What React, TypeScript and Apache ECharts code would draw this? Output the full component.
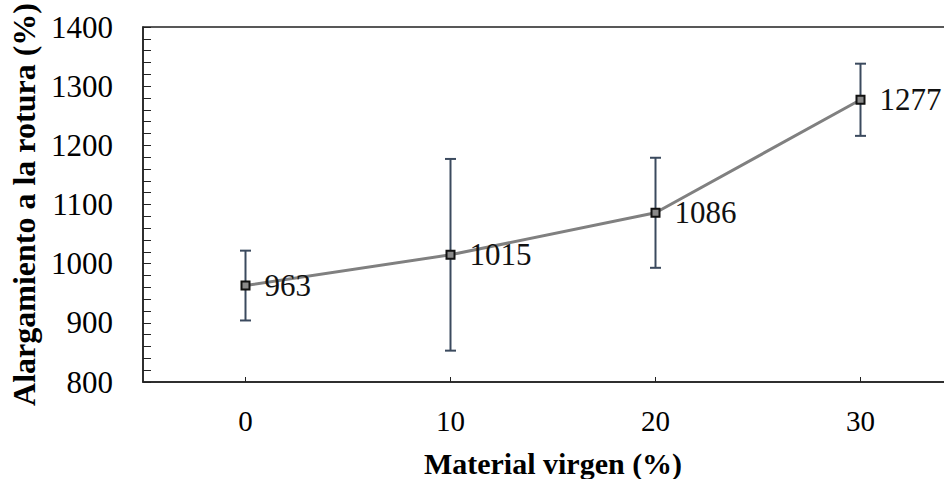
import React, { useEffect, useRef } from "react";
import * as echarts from "echarts";

const categories = ["0", "10", "20", "30"];
const means = [963, 1015, 1086, 1277];
const errors = [59, 162, 93, 61];
const yTicks = { min: 800, max: 1400, interval: 100 };

const FONT = "Liberation Serif";

export default function App() {
  const ref = useRef<HTMLDivElement>(null);
  useEffect(() => {
    document.body.style.margin = "0";
    const chart = echarts.init(ref.current!, null, { renderer: "svg" });
    const errData = categories.map((_, i) => [i, means[i] - errors[i], means[i] + errors[i]]);
    chart.setOption({
      animation: false,
      backgroundColor: "#ffffff",
      textStyle: { fontFamily: FONT },
      grid: {
        left: 143,
        top: 27,
        width: 820,
        height: 355,
        outerBoundsMode: "none",
        containLabel: false,
        show: true,
        borderColor: "#222",
        borderWidth: 1.5,
        backgroundColor: "transparent",
      },
      xAxis: {
        type: "category",
        data: categories,
        boundaryGap: true,
        name: "Material virgen (%)",
        nameLocation: "middle",
        nameGap: 66,
        nameTextStyle: { fontFamily: FONT, fontSize: 30, lineHeight: 30, fontWeight: "bold", color: "#000" },
        axisLine: { show: true, lineStyle: { color: "#222", width: 1.5 } },
        axisTick: { show: true, inside: true, alignWithLabel: true, length: 5, lineStyle: { color: "#222", width: 1 } },
        axisLabel: { fontFamily: FONT, fontSize: 29, color: "#000", margin: 24 },
        splitLine: { show: false },
      },
      yAxis: {
        type: "value",
        min: yTicks.min,
        max: yTicks.max,
        interval: yTicks.interval,
        name: "Alargamiento a la rotura (%)",
        nameLocation: "middle",
        nameGap: 102,
        nameTextStyle: { fontFamily: FONT, fontSize: 32, fontWeight: "bold", color: "#000" },
        axisLine: { show: true, lineStyle: { color: "#222", width: 1.5 } },
        axisTick: { show: true, inside: true, length: 8, lineStyle: { color: "#222", width: 1 } },
        minorTick: { show: true, splitNumber: 5, length: 8, lineStyle: { color: "#222", width: 1 } },
        axisLabel: { fontFamily: FONT, fontSize: 31, color: "#000", margin: 30, formatter: (v: number) => String(v) },
        splitLine: { show: false },
      },
      series: [
        {
          type: "custom",
          z: 1,
          data: errData,
          renderItem: (params: any, api: any) => {
            const x = api.value(0);
            const lo = api.coord([x, api.value(1)]);
            const hi = api.coord([x, api.value(2)]);
            const hw = 5.5;
            const style = { stroke: "#3b4a5e", lineWidth: 2 };
            return {
              type: "group",
              children: [
                { type: "line", shape: { x1: hi[0], y1: hi[1], x2: lo[0], y2: lo[1] }, style },
                { type: "line", shape: { x1: hi[0] - hw, y1: hi[1], x2: hi[0] + hw, y2: hi[1] }, style },
                { type: "line", shape: { x1: lo[0] - hw, y1: lo[1], x2: lo[0] + hw, y2: lo[1] }, style },
              ],
            };
          },
        },
        {
          type: "line",
          z: 3,
          data: means,
          symbol: "rect",
          symbolSize: 8,
          lineStyle: { color: "#808080", width: 3 },
          itemStyle: { color: "#8a8a8a", borderColor: "#111", borderWidth: 2 },
          label: {
            show: true,
            position: "right",
            distance: 14,
            fontFamily: FONT,
            fontSize: 31,
            color: "#111",
          },
        },
      ],
    });
    return () => chart.dispose();
  }, []);
  return (
    <div
      ref={ref}
      style={{ position: "absolute", left: 0, top: 0, width: 944, height: 479 }}
    />
  );
}
